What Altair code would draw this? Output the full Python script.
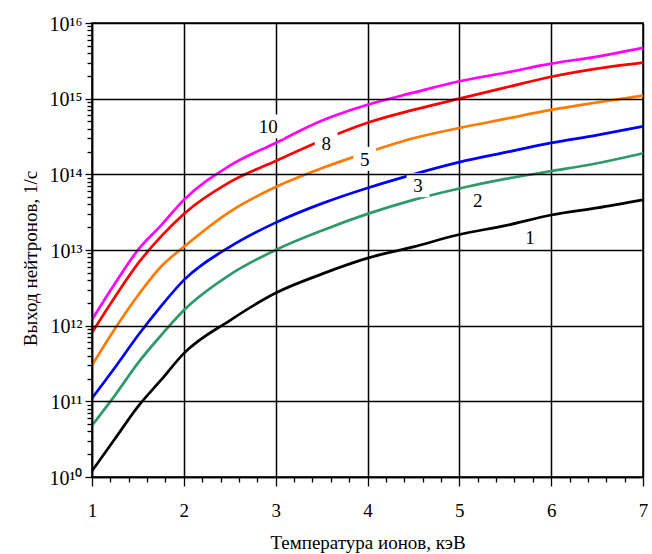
import altair as alt
import pandas as pd

# Ion temperature, keV
temp = [1, 1.25, 1.5, 1.75, 2, 2.5, 3, 3.5, 4, 4.5, 5, 5.5, 6, 6.5, 7]

# Neutron yield, 1/s, per curve
y1 = [1.2e10, 3.2e10, 8.5e10, 1.9e11, 4.3e11, 1.17e12, 2.7e12, 4.8e12, 7.8e12, 1.1e13, 1.6e13, 2.1e13, 2.9e13, 3.6e13, 4.6e13]
y2 = [4.8e10, 1.2e11, 3.2e11, 7.4e11, 1.6e12, 4.7e12, 1.0e13, 1.8e13, 3.0e13, 4.6e13, 6.5e13, 8.7e13, 1.1e14, 1.4e14, 1.9e14]
y3 = [1.1e11, 2.8e11, 7.4e11, 1.8e12, 4.0e12, 1.1e13, 2.3e13, 4.1e13, 6.6e13, 1.0e14, 1.45e14, 1.95e14, 2.6e14, 3.3e14, 4.3e14]
y5 = [3.0e11, 9.1e11, 2.5e12, 6.0e12, 1.1e13, 3.2e13, 6.8e13, 1.2e14, 1.95e14, 3.0e14, 4.1e14, 5.4e14, 7.1e14, 8.9e14, 1.1e15]
y8 = [8.1e11, 2.4e12, 6.6e12, 1.5e13, 3.0e13, 7.9e13, 1.5e14, 2.8e14, 4.8e14, 7.1e14, 1.0e15, 1.4e15, 1.95e15, 2.5e15, 3.0e15]
y10 = [1.2e12, 3.6e12, 1.0e13, 2.1e13, 4.6e13, 1.3e14, 2.6e14, 5.1e14, 8.3e14, 1.2e15, 1.7e15, 2.2e15, 2.9e15, 3.6e15, 4.7e15]

series_names = ["1", "2", "3", "5", "8", "10"]
series_values = [y1, y2, y3, y5, y8, y10]
series_colors = ["#000000", "#2E9A6A", "#0000FF", "#FF7A00", "#FF0000", "#FF00FF"]

# Curve labels (position in data coordinates)
label_text = ["10", "8", "5", "3", "2", "1"]
label_x = [2.92, 3.55, 3.97, 4.55, 5.20, 5.77]
label_y = [4.3e14, 2.6e14, 1.6e14, 7.2e13, 4.6e13, 1.5e13]

# Axis ticks
x_ticks = [round(1 + 0.2 * i, 1) for i in range(31)]
y_exponents = [10, 11, 12, 13, 14, 15, 16]
y_tick_labels = ["10¹⁰", "10¹¹", "10¹²", "10¹³", "10¹⁴", "10¹⁵", "10¹⁶"]
y_ticks = [m * 10.0 ** k for k in y_exponents[:-1] for m in range(1, 10)] + [1e16]

rows = []
for name, vals in zip(series_names, series_values):
    for t, v in zip(temp, vals):
        rows.append({"T": t, "Y": v, "curve": name})
df = pd.DataFrame(rows)
labels_df = pd.DataFrame({"T": label_x, "Y": label_y, "label": label_text})

FONT = "Liberation Serif"
x_major = "abs(datum.value - round(datum.value)) < 0.001"
y_major = "abs(log(datum.value)/LN10 - round(log(datum.value)/LN10)) < 0.001"

y_label_expr = ""
for e, lab in zip(y_exponents, y_tick_labels):
    y_label_expr += f"round(log(datum.value)/LN10) == {e} ? '{lab}' : "
y_label_expr = f"({y_major}) ? ({y_label_expr}'') : ''"

x_scale = alt.Scale(domain=[1, 7], nice=False, zero=False)
y_scale = alt.Scale(type="log", domain=[1e10, 1e16], nice=False)

x_axis = alt.Axis(
    values=x_ticks,
    labelExpr=f"({x_major}) ? ('' + round(datum.value)) : ''",
    labelOverlap=False,
    title="Температура ионов, кэВ",
    grid=True,
    gridColor="black",
    gridWidth=1.5,
    gridOpacity={"condition": {"test": x_major, "value": 1}, "value": 0},
    tickSize={"condition": {"test": x_major, "value": 9}, "value": 5},
    tickColor="black",
    tickWidth=1.3,
    domainColor="black",
    domainWidth=1.5,
    labelFont=FONT,
    labelFontSize=19,
    labelColor="black",
    labelPadding=15,
    labelFlush=False,
    titleFont=FONT,
    titleFontSize=19,
    titleFontWeight="normal",
    titleColor="black",
    titlePadding=13,
)

y_axis = alt.Axis(
    values=y_ticks,
    labelExpr=y_label_expr,
    labelOverlap=False,
    title="Выход нейтронов, 1/с",
    titleY=235,
    grid=True,
    gridColor="black",
    gridWidth=1.5,
    gridOpacity={"condition": {"test": y_major, "value": 1}, "value": 0},
    ticks=True,
    tickSize={"condition": {"test": y_major, "value": 7}, "value": 5},
    tickColor="black",
    tickWidth=1.3,
    tickOpacity=1,
    domain=True,
    domainColor="black",
    domainWidth=1.5,
    domainOpacity=1,
    zindex=1,
    labelFont=FONT,
    labelFontSize=20,
    labelColor="black",
    labelPadding=3,
    labelOffset=1,
    labelFlush=False,
    titleFont=FONT,
    titleFontSize=19,
    titleFontWeight="normal",
    titleColor="black",
    titlePadding=9,
)

lines = alt.Chart(df).mark_line(strokeWidth=2.7, interpolate="monotone").encode(
    x=alt.X("T:Q", scale=x_scale, axis=x_axis),
    y=alt.Y("Y:Q", scale=y_scale, axis=y_axis),
    color=alt.Color("curve:N", scale=alt.Scale(domain=series_names, range=series_colors), legend=None),
    detail="curve:N",
)

boxes = alt.Chart(labels_df).transform_calculate(
    shp="length(datum.label) > 1 ? 'M-1.3,-1L1.3,-1L1.3,1L-1.3,1Z' : 'M-0.95,-1L0.95,-1L0.95,1L-0.95,1Z'"
).mark_point(filled=True, color="white", opacity=1, size=576).encode(
    x=alt.X("T:Q", scale=x_scale, axis=x_axis),
    y=alt.Y("Y:Q", scale=y_scale, axis=y_axis),
    shape=alt.Shape("shp:N", scale=None),
)

texts = alt.Chart(labels_df).mark_text(
    font=FONT, fontSize=19, color="black", baseline="middle", align="center", dy=1
).encode(
    x=alt.X("T:Q", scale=x_scale, axis=x_axis),
    y=alt.Y("Y:Q", scale=y_scale, axis=y_axis),
    text="label:N",
)

chart = alt.layer(lines, boxes, texts).properties(
    width=551,
    height=454,
    autosize=alt.AutoSizeParams(type="none"),
    padding={"left": 92, "top": 23, "right": 9, "bottom": 77},
    background="white",
).configure_view(stroke="black", strokeWidth=1.5)

chart.save("out.html", embed_options={"renderer": "svg", "actions": False})
